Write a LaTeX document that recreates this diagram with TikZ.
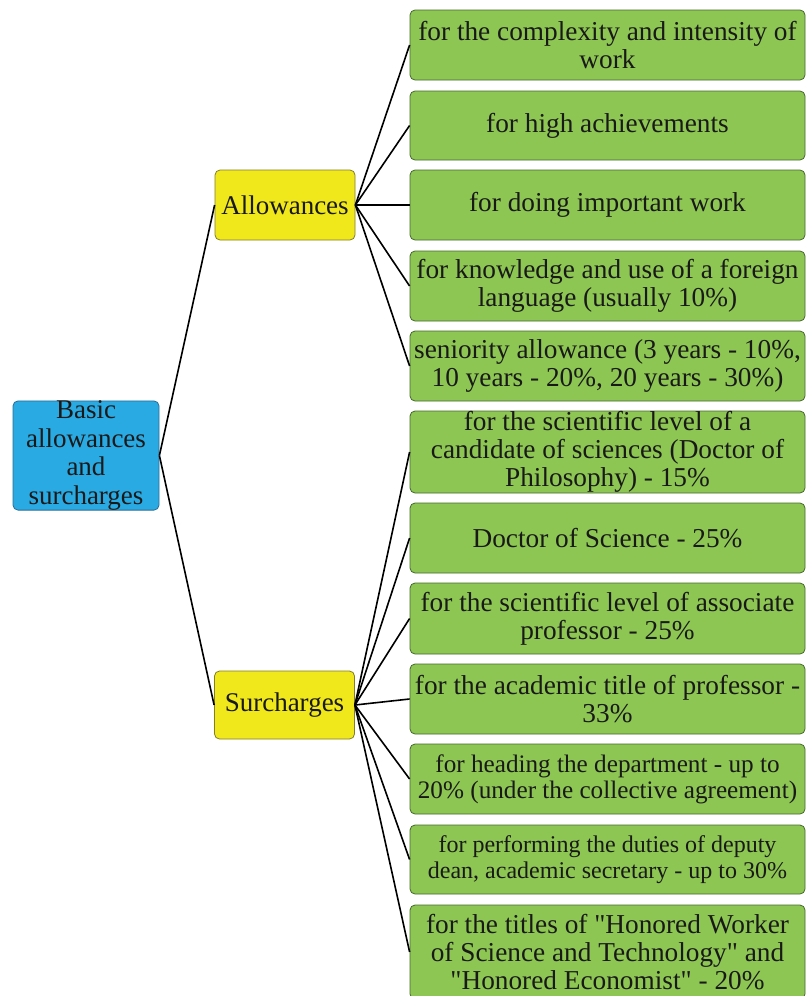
\documentclass[tikz,border=0pt]{standalone}
\usepackage{fontspec}
\setmainfont{Liberation Serif}
\newfontfamily\tms{Liberation Serif}
\newcommand{\dq}{\symbol{34}}
\definecolor{rootfill}{RGB}{42,170,226}
\definecolor{rootdraw}{RGB}{40,110,150}
\definecolor{midfill}{RGB}{240,232,26}
\definecolor{middraw}{RGB}{130,125,40}
\definecolor{leaffill}{RGB}{141,198,82}
\definecolor{leafdraw}{RGB}{70,105,45}
\begin{document}
\begin{tikzpicture}[x=1pt,y=-1pt,
  box/.style={rounded corners=5pt, line width=0.8pt, align=center, inner sep=0pt,
    font=\tms\fontsize{27.3}{28}\selectfont, text=black!90},
  rootbox/.style={box, fill=rootfill, draw=rootdraw, minimum width=146pt, minimum height=105pt},
  midbox/.style={box, fill=midfill, draw=middraw, minimum width=140pt, minimum height=70pt},
  leafbox/.style={box, fill=leaffill, draw=leafdraw, minimum width=395pt, minimum height=70pt},
  link/.style={line width=1.6pt, black}]
\useasboundingbox (0,0) rectangle (806,996);
\node[rootbox, font=\tms\fontsize{27}{28.5}\selectfont] (root) at (86,455.5) {Basic\\allowances\\and\\surcharges};
\node[midbox, font=\tms\fontsize{27}{28}\selectfont] (allow) at (285,205) {Allowances};
\node[midbox, minimum height=68pt, font=\tms\fontsize{27}{28}\selectfont] (surch) at (284.5,705) {Surcharges};

\node[leafbox] (a1) at (607.5,45) {for the complexity and intensity of\\work};
\node[leafbox, minimum height=69pt] (a2) at (607.5,125.5) {for high achievements};
\node[leafbox] (a3) at (607.5,205) {for doing important work};
\node[leafbox] (a4) at (607.5,286) {for knowledge and use of a foreign\\language (usually 10\%)};
\node[leafbox] (a5) at (607.5,366) {seniority allowance (3 years - 10\%,\\10 years - 20\%, 20 years - 30\%)};

\node[leafbox, minimum height=82pt] (s1) at (607.5,452) {for the scientific level of a\\candidate of sciences (Doctor of\\Philosophy) - 15\%};
\node[leafbox] (s2) at (607.5,538) {Doctor of Science - 25\%};
\node[leafbox, minimum height=71pt] (s3) at (607.5,618.5) {for the scientific level of associate\\professor - 25\%};
\node[leafbox] (s4) at (607.5,699) {for the academic title of professor -\\33\%};
\node[leafbox, font=\tms\fontsize{25.2}{26}\selectfont] (s5) at (607.5,779) {for heading the department - up to\\20\% (under the collective agreement)};
\node[leafbox, minimum height=69pt, font=\tms\fontsize{24}{26}\selectfont] (s6) at (607.5,859.5) {for performing the duties of deputy\\dean, academic secretary - up to 30\%};
\node[leafbox, minimum height=94pt] (s7) at (607.5,952) {for the titles of \dq Honored Worker\\of Science and Technology\dq{} and\\\dq Honored Economist\dq{} - 20\%};

\draw[link] (root.east) -- (allow.west);
\draw[link] (root.east) -- (surch.west);
\foreach \n in {a1,a2,a3,a4,a5} \draw[link] (allow.east) -- (\n.west);
\foreach \n in {s1,s2,s3,s4,s5,s6,s7} \draw[link] (surch.east) -- (\n.west);
\end{tikzpicture}
\end{document}
